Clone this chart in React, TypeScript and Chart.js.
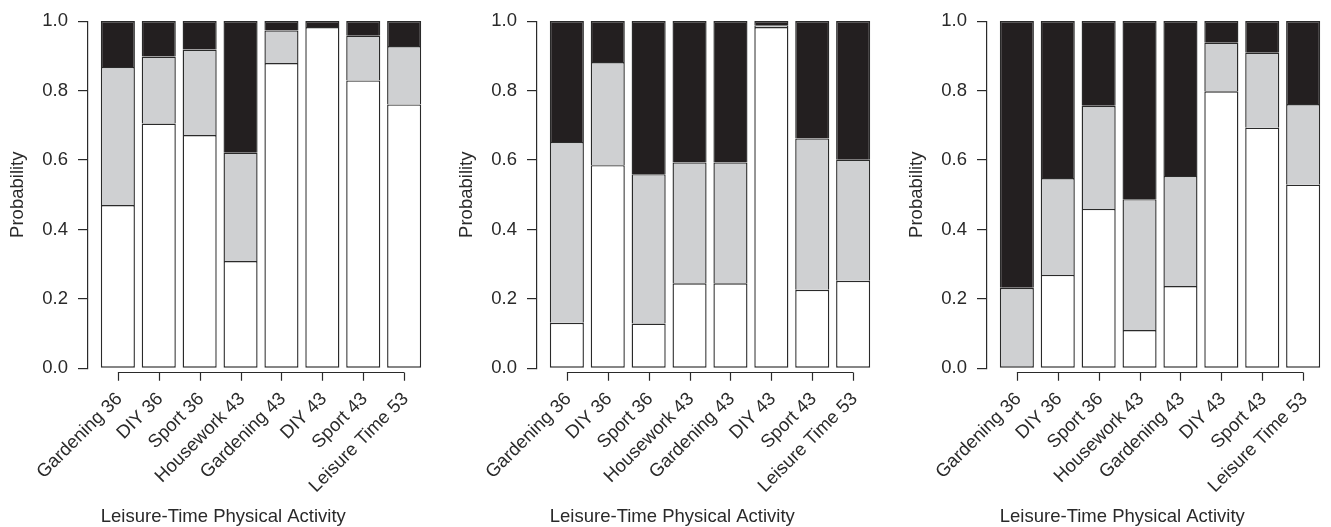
import React, { useEffect, useRef } from "react";
import { Chart, registerables } from "chart.js";

Chart.register(...registerables);

// ---------- data ----------
const categories = [
  "Gardening 36",
  "DIY 36",
  "Sport 36",
  "Housework 43",
  "Gardening 43",
  "DIY 43",
  "Sport 43",
  "Leisure Time 53",
];

const yTicks = [0, 0.2, 0.4, 0.6, 0.8, 1.0];

// panel 1
const p1Low = [0.47, 0.705, 0.672, 0.309, 0.879, 0.983, 0.829, 0.76];
const p1Mid = [0.398, 0.193, 0.246, 0.312, 0.094, 0.0, 0.129, 0.168];
const p1High = [0.132, 0.102, 0.082, 0.379, 0.027, 0.017, 0.042, 0.072];

// panel 2
const p2Low = [0.131, 0.585, 0.129, 0.245, 0.245, 0.983, 0.226, 0.252];
const p2Mid = [0.521, 0.297, 0.43, 0.348, 0.348, 0.005, 0.436, 0.349];
const p2High = [0.348, 0.118, 0.441, 0.407, 0.407, 0.012, 0.338, 0.399];

// panel 3
const p3Low = [0.0, 0.269, 0.459, 0.11, 0.237, 0.798, 0.693, 0.529];
const p3Mid = [0.232, 0.279, 0.297, 0.377, 0.317, 0.14, 0.216, 0.232];
const p3High = [0.768, 0.452, 0.244, 0.513, 0.446, 0.062, 0.091, 0.239];

const xTitle = "Leisure-Time Physical Activity";
const yTitle = "Probability";

// ---------- style ----------
const FONT_FAMILY = "'Liberation Sans', Arial, Helvetica, sans-serif";
const FONT_SIZE = 18.5;
const TEXT_COLOR = "#2a2a2a";
const AXIS_COLOR = "#2a2a2a";
const FILLS = ["#ffffff", "#cfd0d2", "#231f20"];
const CANVAS_W = 440;
const CANVAS_H = 527;
const PANEL_LEFTS = [0, 449, 898.6];

// bar slot geometry (R barplot style: width 1, space 0.2)
const centers = categories.map((_, i) => 0.7 + 1.2 * i);
const X_MIN = -0.176;
const X_MAX = 9.976;

type PanelProps = { low: number[]; mid: number[]; high: number[] };

function Panel({ low, mid, high }: PanelProps) {
  const ref = useRef<HTMLCanvasElement | null>(null);

  useEffect(() => {
    if (!ref.current) return;
    const series = [low, mid, high];
    const font = { family: FONT_FAMILY, size: FONT_SIZE };

    const axisPlugin = {
      id: "rAxis",
      afterDraw(chart: any) {
        const { ctx, chartArea, scales } = chart;
        const xs = scales.x;
        const x0 = xs.getPixelForValue(centers[0]);
        const x1 = xs.getPixelForValue(centers[centers.length - 1]);
        const yLine = Math.round(chartArea.bottom + 3.3) + 0.5;
        const yEnd = chartArea.bottom + 12.4;
        ctx.save();
        ctx.strokeStyle = AXIS_COLOR;
        ctx.lineWidth = 1.2;
        ctx.beginPath();
        ctx.moveTo(x0, yLine);
        ctx.lineTo(x1, yLine);
        centers.forEach((c) => {
          const px = Math.round(xs.getPixelForValue(c)) + 0.5;
          ctx.moveTo(px, yLine);
          ctx.lineTo(px, yEnd);
        });
        ctx.stroke();
        ctx.fillStyle = TEXT_COLOR;
        ctx.font = `${FONT_SIZE}px ${FONT_FAMILY}`;
        ctx.textAlign = "center";
        ctx.textBaseline = "middle";
        ctx.fillText(xTitle, chartArea.left + 135.3, 516.5);
        ctx.restore();
      },
    };

    const chart = new Chart(ref.current, {
      type: "bar",
      data: {
        datasets: series.map((vals, d) => ({
          label: `s${d}`,
          data: vals.map((v, i) => ({ x: centers[i], y: v })),
          backgroundColor: FILLS[d],
          borderColor: AXIS_COLOR,
          borderWidth: 1.4,
          borderSkipped: (c: any) => {
            const i = c.dataIndex;
            let below = 0;
            for (let k = 0; k < d; k++) below += series[k][i];
            return below > 0 ? "bottom" : false;
          },
          barPercentage: 1 / 1.2,
          categoryPercentage: 1,
          inflateAmount: 0,
        })),
      },
      options: {
        animation: false,
        responsive: false,
        devicePixelRatio: 1,
        layout: { padding: { left: 0, top: 20.7, right: CANVAS_W - 438.2, bottom: 0 } },
        plugins: { legend: { display: false }, tooltip: { enabled: false }, title: { display: false } },
        scales: {
          x: {
            type: "linear",
            min: X_MIN,
            max: X_MAX,
            stacked: true,
            offset: false,
            grid: { display: false, drawTicks: false, offset: false },
            border: { display: false },
            afterBuildTicks: (s: any) => {
              s.ticks = centers.map((v) => ({ value: v }));
            },
            afterFit: (s: any) => {
              s.height = CANVAS_H - 368.3;
            },
            ticks: {
              autoSkip: false,
              maxRotation: 45,
              minRotation: 45,
              padding: 20,
              labelOffset: 1.5,
              font,
              color: TEXT_COLOR,
              callback: (_v: any, i: number) => categories[i],
            },
          },
          y: {
            min: 0,
            max: 1,
            stacked: true,
            afterBuildTicks: (s: any) => {
              s.ticks = yTicks.map((v) => ({ value: v }));
            },
            afterFit: (s: any) => {
              s.width = 88;
            },
            ticks: {
              padding: 10,
              font,
              color: TEXT_COLOR,
              callback: (v: any) => Number(v).toFixed(1),
            },
            grid: {
              drawOnChartArea: false,
              drawTicks: true,
              tickLength: 10,
              color: AXIS_COLOR,
              lineWidth: 1.2,
            },
            border: { display: true, color: AXIS_COLOR, width: 1.2 },
            title: {
              display: true,
              text: yTitle,
              font,
              color: TEXT_COLOR,
              padding: { top: 6.7, bottom: 0 },
            },
          },
        },
      },
      plugins: [axisPlugin],
    } as any);

    return () => chart.destroy();
  }, [low, mid, high]);

  return <canvas ref={ref} width={CANVAS_W} height={CANVAS_H} style={{ width: CANVAS_W, height: CANVAS_H, display: "block" }} />;
}

export default function App() {
  const panels: PanelProps[] = [
    { low: p1Low, mid: p1Mid, high: p1High },
    { low: p2Low, mid: p2Mid, high: p2High },
    { low: p3Low, mid: p3Mid, high: p3High },
  ];
  return (
    <div
      style={{
        position: "absolute",
        left: 0,
        top: 0,
        width: 1331,
        height: 527,
        overflow: "hidden",
        background: "#ffffff",
      }}
    >
      {panels.map((p, k) => (
        <div key={k} style={{ position: "absolute", left: PANEL_LEFTS[k], top: 0, width: CANVAS_W, height: CANVAS_H }}>
          <Panel {...p} />
        </div>
      ))}
    </div>
  );
}
